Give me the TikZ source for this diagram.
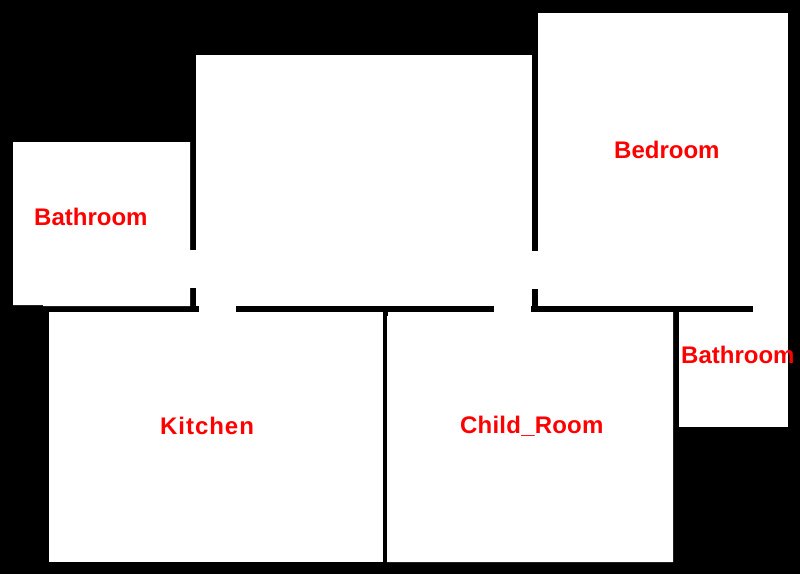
\documentclass[tikz,border=0pt]{standalone}
\usepackage{fontspec}
\setmainfont{Liberation Sans}
\tikzset{
  room/.style={fill=white,draw=none},
  lbl/.style={text=red,font=\fontsize{24}{24}\selectfont\bfseries,inner sep=0pt,anchor=base west}
}
\begin{document}
\begin{tikzpicture}[x=1pt,y=-1pt]
\useasboundingbox (0,0) rectangle (800,574);
\fill[black] (0,0) rectangle (800,574);
% rooms
\fill[room] (13,142) -- (190,142) -- (190,306) -- (43,306) -- (43,305) -- (13,305) -- cycle;
\fill[room] (196,55) rectangle (532,306);
\fill[room] (538,13) rectangle (788,306);
\fill[room] (49,312) rectangle (383,562);
\fill[room] (388,316) -- (387,316) -- (387,562) -- (673,562) -- (673,312) -- (388,312) -- cycle;
\fill[room] (679,312) rectangle (788,427);
% openings
\fill[room] (190,250) rectangle (196,288);
\fill[room] (532,251) rectangle (538,289);
\fill[room] (199,306) rectangle (236,312);
\fill[room] (494,306) rectangle (531,312);
\fill[room] (753,306) rectangle (788,312);
% labels
\node[lbl] (bath1) at (34,225) {Bathroom};
\node[lbl] (bed) at (614,158) {Bedroom};
\node[lbl] (kit) at (160,434) {\addfontfeature{LetterSpace=4}Kitchen};
\node[lbl] (child) at (460,433) {\addfontfeature{LetterSpace=0.9}Child\_Room};
\node[lbl] (bath2) at (681,363) {Bathroom};
\end{tikzpicture}
\end{document}
